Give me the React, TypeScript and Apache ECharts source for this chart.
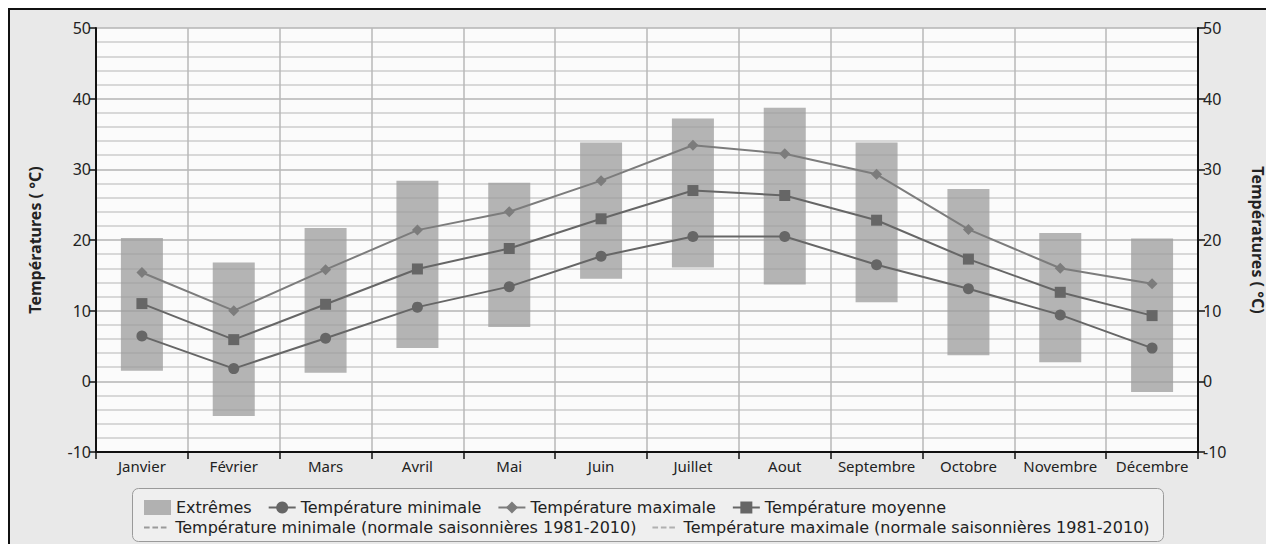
import React, { useEffect, useRef } from "react";
import * as echarts from "echarts";

const months = ["Janvier", "Février", "Mars", "Avril", "Mai", "Juin", "Juillet", "Aout", "Septembre", "Octobre", "Novembre", "Décembre"];
const extremeLow = [1.5, -4.9, 1.2, 4.7, 7.7, 14.5, 16.1, 13.7, 11.2, 3.7, 2.7, -1.5];
const extremeHigh = [20.3, 16.8, 21.7, 28.4, 28.1, 33.8, 37.2, 38.7, 33.8, 27.2, 21.0, 20.2];
const tempMin = [6.4, 1.8, 6.1, 10.5, 13.4, 17.7, 20.5, 20.5, 16.5, 13.1, 9.4, 4.7];
const tempMax = [15.4, 10.0, 15.8, 21.4, 24.0, 28.4, 33.4, 32.2, 29.3, 21.5, 16.0, 13.8];
const tempMean = [11.0, 5.9, 10.9, 15.9, 18.8, 23.0, 27.0, 26.3, 22.8, 17.3, 12.6, 9.3];
const normalMin = [null, null, null, null, null, null, null, null, null, null, null, null];
const normalMax = [null, null, null, null, null, null, null, null, null, null, null, null];

const FONT = "Noto Sans";
const LEGEND_FONT = "DejaVu Sans";

export default function App() {
  const ref = useRef<HTMLDivElement>(null);
  useEffect(() => {
    if (!ref.current) return;
    const chart = echarts.init(ref.current, undefined, { renderer: "svg" });
    const range = extremeHigh.map((h, i) => +(h - extremeLow[i]).toFixed(2));
    const yAxisBase = {
      type: "value",
      min: -10,
      max: 50,
      interval: 10,
      nameLocation: "middle",
      nameTextStyle: { fontFamily: FONT, fontSize: 16, fontWeight: "bold", color: "#222" },
      axisLine: { show: true, lineStyle: { color: "#111", width: 2 } },
      axisTick: { show: true, length: 7, lineStyle: { color: "#111", width: 1.5 } },
      axisLabel: { fontFamily: FONT, fontSize: 16, color: "#222", margin: 5 },
    };
    const dashIcon = "path://M0,0h0.01v0.01h-0.01z M0,7h6v2h-6z M9,7h6v2h-6z M18,7h6v2h-6z M27,16h0.01v0.01h-0.01z";
    const legendCommon = {
      orient: "horizontal",
      padding: 0,
      itemGap: 16,
      itemWidth: 27,
      itemHeight: 15,
      textStyle: { fontFamily: LEGEND_FONT, fontSize: 16, lineHeight: 17, color: "#222" },
    };
    chart.setOption({
      animation: false,
      backgroundColor: "transparent",
      grid: {
        left: 86,
        right: 76,
        top: 18,
        bottom: 92,
        show: true,
        backgroundColor: "#fbfbfb",
        borderWidth: 0,
      },
      graphic: [
        {
          type: "rect",
          z: 0,
          shape: { x: 122.5, y: 478.5, width: 1031, height: 53, r: 6 },
          style: { fill: "#efefef", stroke: "#9a9a9a", lineWidth: 1 },
        },
      ],
      legend: [
        {
          ...legendCommon,
          left: 134,
          top: 489,
          data: [
            { name: "Extrêmes", icon: "rect" },
            "Température minimale",
            "Température maximale",
            "Température moyenne",
          ],
        },
        {
          ...legendCommon,
          left: 134,
          top: 509,
          data: [
            { name: "Température minimale (normale saisonnières 1981-2010)", icon: dashIcon },
            { name: "Température maximale (normale saisonnières 1981-2010)", icon: dashIcon },
          ],
        },
      ],
      xAxis: {
        type: "category",
        data: months,
        boundaryGap: true,
        axisLine: { show: true, onZero: false, lineStyle: { color: "#111", width: 2 } },
        axisTick: { show: true, length: 7, alignWithLabel: false, lineStyle: { color: "#111", width: 1.5 } },
        axisLabel: { fontFamily: FONT, fontSize: 15, color: "#222", margin: 6, interval: 0 },
        splitLine: { show: true, lineStyle: { color: "#b8b8b8", width: 1.5 } },
      },
      yAxis: [
        {
          ...yAxisBase,
          position: "left",
          name: "Températures ( °C)",
          nameGap: 53,
          splitLine: { show: true, lineStyle: { color: "#b5b5b5", width: 1.5 } },
          minorTick: { show: false, splitNumber: 5 },
          minorSplitLine: { show: true, lineStyle: { color: "#cdcdcd", width: 1.5 } },
        },
        {
          ...yAxisBase,
          position: "right",
          name: "Températures ( °C)",
          nameGap: 52,
          nameRotate: -90,
          splitLine: { show: false },
        },
      ],
      series: [
        {
          name: "Extrêmes-base",
          type: "bar",
          stack: "ext",
          stackStrategy: "all",
          barWidth: 42,
          itemStyle: { color: "transparent" },
          data: extremeLow,
          silent: true,
        },
        {
          name: "Extrêmes",
          type: "bar",
          stack: "ext",
          stackStrategy: "all",
          barWidth: 42,
          itemStyle: { color: "#9c9c9c", opacity: 0.75 },
          data: range,
        },
        {
          name: "Température minimale",
          type: "line",
          data: tempMin,
          symbol: "circle",
          symbolSize: 11,
          itemStyle: { color: "#666666" },
          lineStyle: { color: "#666666", width: 2 },
        },
        {
          name: "Température maximale",
          type: "line",
          data: tempMax,
          symbol: "diamond",
          symbolSize: 11,
          itemStyle: { color: "#7c7c7c" },
          lineStyle: { color: "#7c7c7c", width: 2 },
        },
        {
          name: "Température moyenne",
          type: "line",
          data: tempMean,
          symbol: "rect",
          symbolSize: 11,
          itemStyle: { color: "#666666" },
          lineStyle: { color: "#666666", width: 2 },
        },
        {
          name: "Température minimale (normale saisonnières 1981-2010)",
          type: "line",
          data: normalMin,
          symbol: "none",
          itemStyle: { color: "#9a9a9a" },
          lineStyle: { color: "#9a9a9a", width: 1, type: "dashed" },
        },
        {
          name: "Température maximale (normale saisonnières 1981-2010)",
          type: "line",
          data: normalMax,
          symbol: "none",
          itemStyle: { color: "#b0b0b0" },
          lineStyle: { color: "#b0b0b0", width: 1, type: "dashed" },
        },
      ],
    });
    return () => chart.dispose();
  }, []);
  return (
    <div
      style={{
        width: 1266,
        height: 536,
        boxSizing: "border-box",
        borderTop: "2px solid #111",
        borderLeft: "2px solid #111",
        background: "#e9e9e9",
      }}
    >
      <div ref={ref} style={{ width: 1264, height: 534 }} />
    </div>
  );
}
